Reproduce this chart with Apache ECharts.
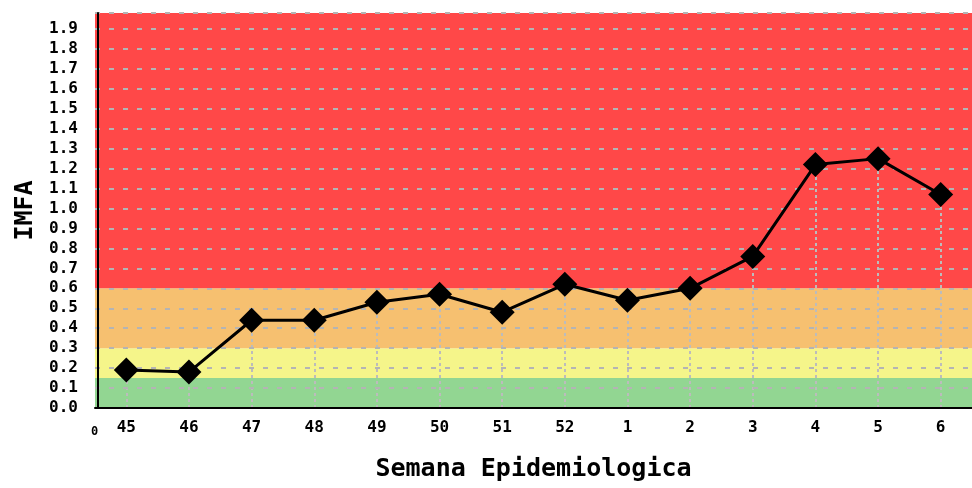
<!DOCTYPE html>
<html>
<head>
<meta charset="utf-8">
<script src="https://cdn.jsdelivr.net/npm/echarts@6/dist/echarts.min.js"></script>
<style>
  html, body { margin: 0; padding: 0; background: #ffffff; }
  #chart { width: 972px; height: 488px; }
</style>
</head>
<body>
<div id="chart"></div>
<script>
// epidemiological weeks (45..52 then the new year)
const weeks = ["45", "46", "47", "48", "49", "50", "51", "52", "1", "2", "3", "4", "5", "6"];
const imfa = [0.19, 0.18, 0.44, 0.44, 0.53, 0.57, 0.48, 0.62, 0.54, 0.60, 0.76, 1.22, 1.25, 1.07];

const yMax = 1.98;
const yStep = 0.1;

// risk bands: green / yellow / orange / red
const bandLimits = [0, 0.15, 0.3, 0.6, yMax];
const bandColors = ["#92d692", "#f5f58a", "#f6c070", "#ff4848"];

const monoFont = "DejaVu Sans Mono";

const chart = echarts.init(document.getElementById("chart"));

const bands = bandColors.map((c, i) => [
  { yAxis: bandLimits[i], itemStyle: { color: c } },
  { yAxis: bandLimits[i + 1] }
]);

const dropLines = weeks.map((w, i) => [
  { coord: [w, 0] },
  { coord: [w, imfa[i]] }
]);

chart.setOption({
  animation: false,
  grid: { left: 95, right: -15, top: 13, bottom: 80 },
  xAxis: {
    type: "category",
    data: weeks,
    boundaryGap: true,
    name: "Semana Epidemiologica",
    nameLocation: "middle",
    nameGap: 49,
    nameTextStyle: { fontFamily: monoFont, fontWeight: "bold", fontSize: 25, color: "#000" },
    axisLine: { lineStyle: { color: "#000", width: 2 } },
    axisTick: { show: false },
    axisLabel: { fontFamily: monoFont, fontWeight: "bold", fontSize: 16, color: "#000", margin: 12 },
    splitLine: { show: false },
    z: 3
  },
  yAxis: {
    type: "value",
    min: 0,
    max: yMax,
    interval: yStep,
    offset: -3,
    name: "IMFA",
    nameLocation: "middle",
    nameRotate: 90,
    nameGap: 60,
    nameTextStyle: { fontFamily: monoFont, fontWeight: "bold", fontSize: 25, color: "#000" },
    axisLine: { show: true, lineStyle: { color: "#000", width: 2 } },
    axisTick: { show: false },
    axisLabel: {
      fontFamily: monoFont, fontWeight: "bold", fontSize: 16, color: "#000", margin: 20,
      showMaxLabel: false,
      formatter: v => v.toFixed(1)
    },
    splitLine: { show: true, lineStyle: { color: "#b4b4b4", width: 2, type: [5, 9] } },
    z: 3
  },
  graphic: [
    { type: "text", left: 91, top: 426, style: { text: "0", font: "bold 12px DejaVu Sans Mono", fill: "#000" } }
  ],
  series: [
    {
      name: "bands",
      type: "line",
      data: [],
      z: 1,
      silent: true,
      markArea: { silent: true, z: 1, data: bands },
      markLine: {
        silent: true,
        z: 2,
        symbol: ["none", "none"],
        label: { show: false },
        lineStyle: { color: "#bcbcbc", width: 2, type: [3, 3] },
        data: dropLines
      }
    },
    {
      name: "IMFA",
      type: "line",
      data: imfa,
      z: 10,
      symbol: "diamond",
      symbolSize: 25,
      lineStyle: { color: "#000", width: 3 },
      itemStyle: { color: "#000" }
    }
  ]
});
</script>
</body>
</html>
